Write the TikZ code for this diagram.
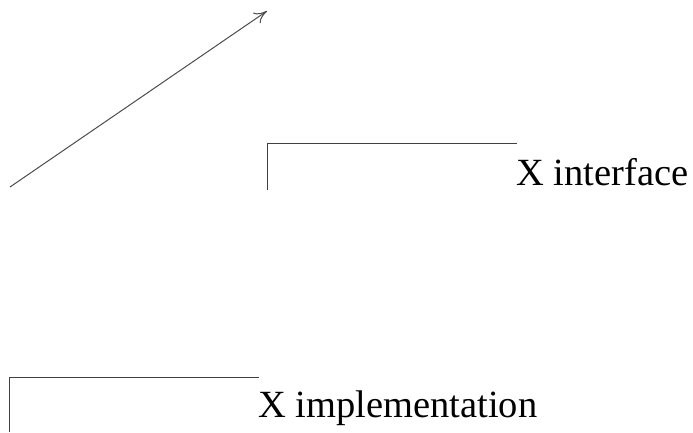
\documentclass[tikz,border=0pt]{standalone}
\usepackage{fontspec}
\setmainfont{Liberation Serif}
\usetikzlibrary{arrows.meta}
\tikzset{
  rim/.style={draw=black!75,line width=1pt},
  caption/.style={anchor=base west,inner sep=0pt,font=\fontsize{38.5}{42}\selectfont},
  arrow/.style={-{To[length=4.5mm,width=4.5mm]},draw=black!70,line width=1pt}
}
\begin{document}
\begin{tikzpicture}[x=1pt,y=-1pt]
\useasboundingbox (0,0) rectangle (693,432);
\coordinate (tail) at (10,187);
\coordinate (head) at (267,11);
\draw[arrow] (tail) -- (head);
% interface bracket
\coordinate (ifbot) at (267,190);
\coordinate (ifend) at (517,143);
\draw[rim] (ifbot) |- (ifend);
\node[caption] (iface) at (516,185) {X interface};
% implementation bracket
\coordinate (imbot) at (9,432);
\coordinate (imend) at (259,377);
\draw[rim] (imbot) |- (imend);
\node[caption] (impl) at (258,417) {X implementation};
\end{tikzpicture}
\end{document}
